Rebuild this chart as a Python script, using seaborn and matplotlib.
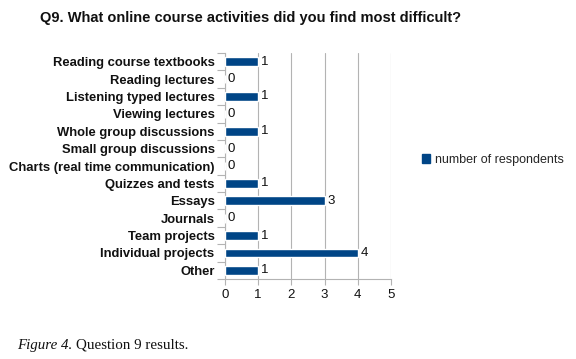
import matplotlib
matplotlib.use("Agg")
import matplotlib.pyplot as plt
import seaborn as sns
import pandas as pd
from matplotlib.patches import Patch

categories = [
    "Reading course textbooks",
    "Reading lectures",
    "Listening typed lectures",
    "Viewing lectures",
    "Whole group discussions",
    "Small group discussions",
    "Charts (real time communication)",
    "Quizzes and tests",
    "Essays",
    "Journals",
    "Team projects",
    "Individual projects",
    "Other",
]
values = [1, 0, 1, 0, 1, 0, 0, 1, 3, 0, 1, 4, 1]
x_ticks = [0, 1, 2, 3, 4, 5]
series_name = "number of respondents"
bar_color = "#004586"

df = pd.DataFrame({"activity": categories, "count": values})

sns.set_theme(style="white")
plt.rcParams["font.family"] = ["Liberation Sans", "DejaVu Sans"]

fig = plt.figure(figsize=(5.76, 3.59), dpi=100)
ax = fig.add_axes([225 / 576, 1 - 279 / 359, 166 / 576, (279 - 53) / 359])

sns.barplot(data=df, y="activity", x="count", orient="h", color=bar_color,
            width=0.5, saturation=1, ax=ax, zorder=3)

ax.set_xlim(0, 5)
ax.set_ylim(len(categories) - 0.5, -0.5)
ax.set_xticks(x_ticks)
ax.set_xticklabels([str(t) for t in x_ticks], fontsize=9.5, color="#111111")
ax.xaxis.grid(True, color="#b3b3b3", linewidth=0.8, zorder=0)
ax.yaxis.grid(False)
ax.set_xlabel("")
ax.set_ylabel("")

ax.set_yticks(range(len(categories)))
ax.set_yticklabels(categories, fontsize=9.4, fontweight="bold", color="#111111")
ax.tick_params(axis="y", length=0, pad=7.5)
ax.set_yticks([i - 0.5 for i in range(len(categories) + 1)], minor=True)
ax.tick_params(axis="y", which="minor", length=6, color="#b3b3b3", width=0.8, left=True)
ax.tick_params(axis="x", length=4, color="#b3b3b3", width=0.8, bottom=True, pad=3)

for s in ["top", "right"]:
    ax.spines[s].set_visible(False)
for s in ["left", "bottom"]:
    ax.spines[s].set_color("#b3b3b3")
    ax.spines[s].set_linewidth(0.8)

for i, v in enumerate(values):
    ax.text(v + 0.08, i, str(v), va="center", ha="left", fontsize=9.5, color="#111111")

fig.text(251 / 576, 1 - 18 / 359, "Q9. What online course activities did you find most difficult?",
         ha="center", va="center", fontsize=10.5, fontweight="bold", color="#111111")

fig.legend(handles=[Patch(facecolor=bar_color, edgecolor=bar_color, label=series_name)],
           loc="center left", bbox_to_anchor=(422 / 576, 1 - 160 / 359), frameon=False,
           fontsize=9, handlelength=0.65, handleheight=0.65, handletextpad=0.4,
           borderaxespad=0, borderpad=0)

serif = ["Liberation Serif", "DejaVu Serif"]
t1 = fig.text(17 / 576, 1 - 345 / 359, "Figure 4.", ha="left", va="center", fontsize=10.8,
              fontstyle="italic", family=serif, color="#111111")
fig.canvas.draw()
bb = t1.get_window_extent(renderer=fig.canvas.get_renderer())
fig.text(bb.x1 / 576 + 4 / 576, 1 - 345 / 359, "Question 9 results.", ha="left", va="center",
         fontsize=10.8, family=serif, color="#111111")

fig.savefig("out.png", dpi=100)
